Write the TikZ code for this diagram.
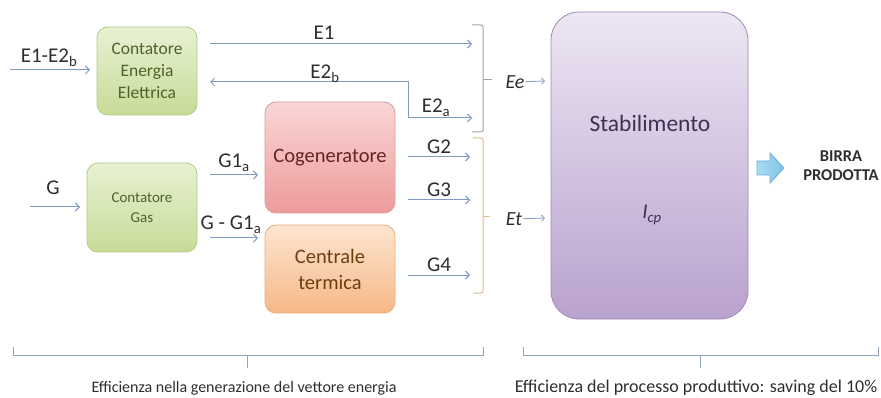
\documentclass[tikz,border=0pt]{standalone}
\usepackage{fontspec}
\setmainfont{Carlito}
\usetikzlibrary{arrows.meta}

\definecolor{flussoc}{HTML}{7E9BC6}
\definecolor{testoc}{HTML}{2E2E2E}
\definecolor{verdeA}{HTML}{E8F1D3}
\definecolor{verdeB}{HTML}{C6DC98}
\definecolor{verdeD}{HTML}{B3CB86}
\definecolor{verdeT}{HTML}{4F6228}
\definecolor{rossoA}{HTML}{FAD6D6}
\definecolor{rossoB}{HTML}{EE9A9A}
\definecolor{rossoD}{HTML}{D99A9A}
\definecolor{rossoT}{HTML}{632523}
\definecolor{aranA}{HTML}{FDE5D0}
\definecolor{aranB}{HTML}{F7B887}
\definecolor{aranD}{HTML}{E9AE7C}
\definecolor{aranT}{HTML}{6B3E12}
\definecolor{violaA}{HTML}{EDE6F3}
\definecolor{violaB}{HTML}{B9A2CE}
\definecolor{violaD}{HTML}{9D8AB5}
\definecolor{violaT}{HTML}{3F3151}
\definecolor{grafEe}{HTML}{A8A29A}
\definecolor{grafEt}{HTML}{DDBB92}
\definecolor{grafB}{HTML}{8FA3BE}
\definecolor{frecciaA}{HTML}{A9DDF2}
\definecolor{frecciaB}{HTML}{7CC3E6}
\definecolor{frecciaD}{HTML}{6AAED6}

\begin{document}
\begin{tikzpicture}[x=1pt,y=-1pt,
    box/.style={rounded corners=11pt, line width=0.8pt, inner sep=0pt, align=center},
    verde/.style={box, draw=verdeD, top color=verdeA, bottom color=verdeB, text=verdeT},
    rosso/.style={box, draw=rossoD, top color=rossoA, bottom color=rossoB, text=rossoT},
    arancio/.style={box, draw=aranD, top color=aranA, bottom color=aranB, text=aranT},
    viola/.style={box, rounded corners=28pt, draw=violaD, top color=violaA, bottom color=violaB, text=violaT},
    flusso/.style={draw=flussoc, line width=1pt, -{Straight Barb[length=4pt,width=8pt]}},
    etich/.style={font=\fontsize{21}{24}\selectfont, text=testoc, inner sep=0pt, anchor=base},
    ingr/.style={font=\fontsize{20}{24}\selectfont\itshape, text=testoc, inner sep=1pt},
    nota/.style={font=\fontsize{17}{20}\selectfont, text=testoc, inner sep=0pt}]
  \useasboundingbox (0,0) rectangle (881,398);

  % --- blocchi ---
  \node[verde, minimum width=100, minimum height=88,
        font=\fontsize{17.5}{22}\selectfont] (cee) at (147,71) {Contatore\\Energia\\Elettrica};
  \node[verde, minimum width=110, minimum height=89,
        font=\fontsize{15}{20}\selectfont] (cgas) at (142,207.5) {Contatore\\Gas};
  \node[rosso, minimum width=130, minimum height=111,
        font=\fontsize{20.5}{24}\selectfont] (cog) at (330,157.5) {Cogeneratore};
  \node[arancio, minimum width=130, minimum height=88,
        font=\fontsize{20.5}{26}\selectfont] (ct) at (330,269) {Centrale\\termica};
  \node[viola, minimum width=197, minimum height=307] (stab) at (649.5,165.5) {};
  \node[font=\fontsize{23.5}{26}\selectfont, text=violaT] (stabt) at (650,123) {Stabilimento};
  \node[font=\fontsize{21}{24}\selectfont, text=violaT] (icp) at (652,215) {\textit{I}\textsubscript{\textit{cp}}};

  % --- energia elettrica ---
  \coordinate (e0) at (10,70);   \coordinate (e0f) at (90,70);
  \coordinate (e1) at (210,44);  \coordinate (e1f) at (472,44);
  \coordinate (e2b) at (210,82); \coordinate (e2g) at (408,82);
  \coordinate (e2h) at (408,118); \coordinate (e2a) at (472,118);
  \draw[flusso] (e0) -- (e0f);
  \draw[flusso] (e1) -- (e1f);
  \draw[flusso, {Straight Barb[length=4pt,width=8pt]}-{Straight Barb[length=4pt,width=8pt]}]
    (e2b) -- (e2g) -- (e2h) -- (e2a);
  \node[etich] (lE0) at (49,63) {E1-E2\textsubscript{b}};
  \node[etich] (lE1) at (324,40) {E1};
  \node[etich] (lE2b) at (325,79) {E2\textsubscript{b}};
  \node[etich] (lE2a) at (436,113) {E2\textsubscript{a}};

  % --- gas ---
  \coordinate (g0) at (30,207);   \coordinate (g0f) at (80,207);
  \coordinate (g1) at (210,175);  \coordinate (g1f) at (258,175);
  \coordinate (g5) at (210,238);  \coordinate (g5f) at (258,238);
  \draw[flusso] (g0) -- (g0f);
  \draw[flusso] (g1) -- (g1f);
  \draw[flusso] (g5) -- (g5f);
  \node[etich] (lG) at (53,195) {G};
  \node[etich] (lG1) at (234,168) {G1\textsubscript{a}};
  \node[etich] (lG5) at (231,230) {G - G1\textsubscript{a}};
  \foreach \n/\y in {2/157, 3/200, 4/275}{
    \coordinate (g\n) at (408,\y);
    \coordinate (g\n f) at (470,\y);
    \draw[flusso] (g\n) -- (g\n f);
    \node[etich] (lG\n) at (439,\y-3) {G\n};
  }

  % --- graffe ---
  \draw[grafEe, line width=1pt, rounded corners=2pt] (472,25) -- (483,25) -- (483,132) -- (472,132);
  \draw[grafEe, line width=1pt] (483,80) -- (492,80);
  \draw[grafEt, line width=1pt, rounded corners=2pt] (473,138) -- (483,138) -- (483,293) -- (473,293);
  \draw[grafEt, line width=1pt] (483,217) -- (490,217);
  \node[ingr] (lEe) at (515,82) {Ee};
  \node[ingr] (lEt) at (514,219) {Et};
  \coordinate (ee) at (545,81);
  \coordinate (et) at (545,218);
  \draw[flusso, line width=0.8pt, -{Straight Barb[length=3pt,width=6pt]}] (lEe) -- (ee);
  \draw[flusso, line width=0.8pt, -{Straight Barb[length=3pt,width=6pt]}] (lEt) -- (et);

  % --- uscita ---
  \draw[draw=frecciaD, line width=0.8pt, left color=frecciaA, right color=frecciaB]
    (757,161) -- (770,161) -- (770,153) -- (784,168) -- (770,183) -- (770,175) -- (757,175) -- cycle;
  \node[font=\fontsize{16.5}{19}\selectfont\bfseries, text=testoc, align=center] (birra) at (841,166) {BIRRA\\PRODOTTA};

  % --- graffe in basso ---
  \draw[grafB, line width=1pt] (13,347) -- (13,355) -- (483,355) -- (483,347);
  \draw[grafB, line width=1pt] (247,355) -- (247,368);
  \draw[grafB, line width=1pt] (523,347) -- (523,355) -- (878,355) -- (878,347);
  \draw[grafB, line width=1pt] (700,355) -- (700,368);
  \node[nota, font=\fontsize{16}{20}\selectfont] (effG) at (244,388) {Efficienza nella generazione del vettore energia};
  \node[nota, font=\fontsize{18}{20}\selectfont] (effP) at (696,388) {Efficienza del processo produttivo: saving del 10\%};
\end{tikzpicture}
\end{document}
